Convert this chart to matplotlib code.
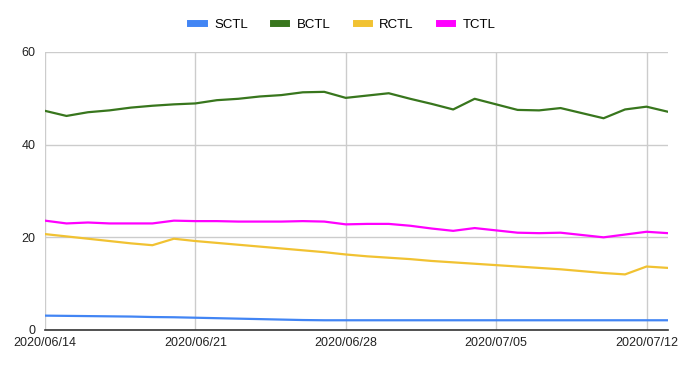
import numpy as np
import pandas as pd
import matplotlib.pyplot as plt
import matplotlib.dates as mdates
from matplotlib.lines import Line2D

plt.rcParams['font.family'] = ['Liberation Sans', 'DejaVu Sans']

# daily dates, 2020/06/14 .. 2020/07/13
dates = pd.date_range('2020-06-14', '2020-07-13', freq='D')

sctl = [3.1, 3.05, 3.0, 2.95, 2.9, 2.8, 2.75, 2.65, 2.55, 2.45, 2.35, 2.25, 2.15, 2.1, 2.1,
        2.1, 2.1, 2.1, 2.1, 2.1, 2.1, 2.1, 2.1, 2.1, 2.1, 2.1, 2.1, 2.1, 2.1, 2.1]
bctl = [47.3, 46.2, 47.0, 47.4, 48.0, 48.4, 48.7, 48.9, 49.6, 49.9, 50.4, 50.7, 51.3, 51.4, 50.1,
        50.6, 51.1, 49.9, 48.8, 47.6, 49.9, 48.7, 47.5, 47.4, 47.9, 46.8, 45.7, 47.6, 48.2, 47.1]
rctl = [20.7, 20.2, 19.7, 19.2, 18.7, 18.3, 19.7, 19.2, 18.8, 18.4, 18.0, 17.6, 17.2, 16.8, 16.3,
        15.9, 15.6, 15.3, 14.9, 14.6, 14.3, 14.0, 13.7, 13.4, 13.1, 12.7, 12.3, 12.0, 13.7, 13.4]
tctl = [23.6, 23.0, 23.2, 23.0, 23.0, 23.0, 23.6, 23.5, 23.5, 23.4, 23.4, 23.4, 23.5, 23.4, 22.8,
        22.9, 22.9, 22.5, 21.9, 21.4, 22.0, 21.5, 21.0, 20.9, 21.0, 20.5, 20.0, 20.6, 21.2, 20.9]

names = ['SCTL', 'BCTL', 'RCTL', 'TCTL']
colors = ['#4285F4', '#38761D', '#F1C232', '#FF00FF']
tick_dates = pd.to_datetime(['2020-06-14', '2020-06-21', '2020-06-28', '2020-07-05', '2020-07-12'])

fig = plt.figure(figsize=(6.86, 3.69), dpi=100)
ax = fig.add_axes([45 / 686, 1 - 330 / 369, 623 / 686, 278 / 369])

for series, c in zip([sctl, bctl, rctl, tctl], colors):
    ax.plot(dates, series, color=c, linewidth=1.6, solid_joinstyle='round')

ax.set_xlim(dates[0], dates[-1])
ax.set_ylim(0, 60)
ax.set_yticks([0, 20, 40, 60])
ax.set_xticks(tick_dates)
ax.xaxis.set_major_formatter(mdates.DateFormatter('%Y/%m/%d'))
ax.grid(True, color='#cccccc', linewidth=1)
ax.set_axisbelow(True)
ax.tick_params(length=0, labelsize=9, colors='#222222', pad=5)
ax.tick_params(axis='y', pad=7)
for s in ['top', 'right', 'left']:
    ax.spines[s].set_visible(False)
ax.spines['bottom'].set_color('#333333')
ax.spines['bottom'].set_linewidth(1.2)

handles = [Line2D([], [], color=c, linewidth=5) for c in colors]
fig.legend(handles, names, loc='center', bbox_to_anchor=(0.5, 1 - 25 / 369), ncol=4,
           frameon=False, fontsize=9.5, handlelength=1.0, handletextpad=0.8, columnspacing=1.9)

fig.savefig('out.png', dpi=100)
